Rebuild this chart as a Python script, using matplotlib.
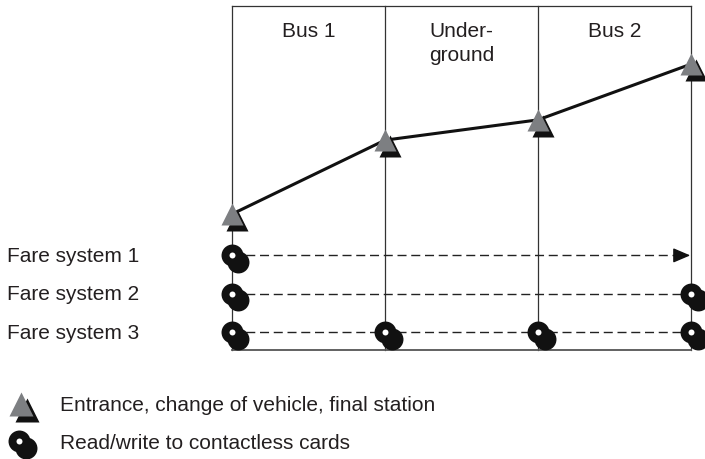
import matplotlib
matplotlib.use("Agg")
import matplotlib.pyplot as plt
from matplotlib import transforms

plt.rcParams['font.family'] = ['Liberation Sans', 'DejaVu Sans']

# ---- data ----
stop_pos = [0, 1, 2, 3]                      # entrance / changes / final station
fare_level = [39.5, 61.0, 66.9, 83.1]        # cumulative level at each stop
segments = ["Bus 1", "Under-\nground", "Bus 2"]
fare_systems = ["Fare system 1", "Fare system 2", "Fare system 3"]
fare_rows = [27.5, 16.3, 5.2]
# stops where each fare system reads/writes the card
fare_reads = [[0], [0, 3], [0, 1, 2, 3]]
fare_arrow = [True, False, False]
legend_labels = ["Entrance, change of vehicle, final station",
                 "Read/write to contactless cards"]

TXT = '#231f20'
GRAY = '#7d7f82'
LINE = '#333333'
FS = 15

W, H = 705, 460
fig = plt.figure(figsize=(W / 100, H / 100), dpi=100)
x0, x1, y_top, y_bot = 232, 691, 7, 351
ax = fig.add_axes([x0 / W, (H - y_bot) / H, (x1 - x0) / W, (y_bot - y_top) / H])
ax.set_xlim(0, 3)
ax.set_ylim(0, 100)
ax.axis('off')

# frame lines
for xp in stop_pos:
    ax.plot([xp, xp], [0, 100], color=LINE, lw=0.9, zorder=1, clip_on=False)
ax.plot([0, 3], [100, 100], color=LINE, lw=0.9, zorder=1, clip_on=False)
ax.plot([0, 3], [0, 0], color='#555555', lw=1.3, zorder=1, clip_on=False)

# segment labels
for i, s in enumerate(segments):
    ax.text(i + 0.5, 95.6, s, ha='center', va='top', fontsize=FS, color=TXT,
            linespacing=1.3)

# path line
ax.plot(stop_pos, fare_level, color='#111111', lw=2.2, zorder=3, solid_capstyle='round')

shadow_tri = transforms.offset_copy(ax.transData, fig, x=5, y=-6, units='dots')
shadow_circ = transforms.offset_copy(ax.transData, fig, x=6.5, y=-6.5, units='dots')

ax.plot(stop_pos, fare_level, ls='none', marker='^', ms=16.5, color='#111111',
        mec='none', transform=shadow_tri, zorder=4, clip_on=False)
ax.plot(stop_pos, fare_level, ls='none', marker='^', ms=16.5, color=GRAY,
        mec='none', zorder=5, clip_on=False)

# fare system rows
lab_tr = transforms.blended_transform_factory(fig.transFigure, ax.transData)
for name, yv, reads, arr in zip(fare_systems, fare_rows, fare_reads, fare_arrow):
    ax.text(7 / W, yv, name, transform=lab_tr, ha='left', va='center',
            fontsize=FS, color=TXT)
    xend = 2.97 if arr else 3
    ax.plot([0, xend], [yv, yv], color='#222222', lw=1.0, dashes=(6.5, 3.4),
            zorder=2, clip_on=False)
    if arr:
        ax.annotate('', xy=(2.995, yv), xytext=(2.93, yv),
                    arrowprops=dict(arrowstyle='-|>,head_length=0.75,head_width=0.32',
                                    color='#111111', lw=1.0, shrinkA=0, shrinkB=0,
                                    mutation_scale=14), zorder=3)
    xs = [stop_pos[k] for k in reads]
    ys = [yv] * len(xs)
    ax.plot(xs, ys, ls='none', marker='o', ms=15.8, color='#111111', mec='none',
            transform=shadow_circ, zorder=6, clip_on=False)
    ax.plot(xs, ys, ls='none', marker='o', ms=15.8, color='#111111', mec='none',
            zorder=7, clip_on=False)
    ax.plot(xs, ys, ls='none', marker='o', ms=4.3, color='white', mec='none',
            zorder=8, clip_on=False)

# legend
lg = fig.add_axes([0, 0, 1, 1])
lg.set_xlim(0, W)
lg.set_ylim(H, 0)
lg.axis('off')
lg.patch.set_alpha(0)
lg_tri = transforms.offset_copy(lg.transData, fig, x=6, y=-6, units='dots')
lg_circ = transforms.offset_copy(lg.transData, fig, x=7, y=-7, units='dots')
lg.plot([20.5], [405], ls='none', marker='^', ms=17, color='#111111', mec='none',
        transform=lg_tri)
lg.plot([20.5], [405], ls='none', marker='^', ms=17, color=GRAY, mec='none')
lg.plot([19], [442], ls='none', marker='o', ms=15.8, color='#111111', mec='none',
        transform=lg_circ)
lg.plot([19], [442], ls='none', marker='o', ms=15.8, color='#111111', mec='none')
lg.plot([19], [442], ls='none', marker='o', ms=4.3, color='white', mec='none')
lg.text(60, 406, legend_labels[0], ha='left', va='center', fontsize=FS, color=TXT)
lg.text(60, 444, legend_labels[1], ha='left', va='center', fontsize=FS, color=TXT)

fig.savefig('out.png', dpi=100, facecolor='white')
